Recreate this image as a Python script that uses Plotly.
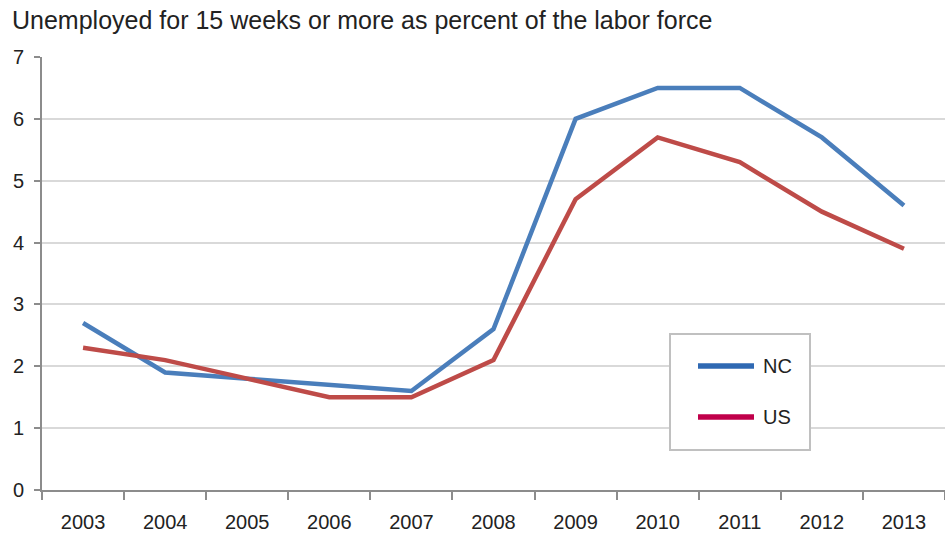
import plotly.graph_objects as go

# Long-term unemployment: share of labor force unemployed 15+ weeks
years = ["2003", "2004", "2005", "2006", "2007", "2008",
         "2009", "2010", "2011", "2012", "2013"]
nc_values = [2.7, 1.9, 1.8, 1.7, 1.6, 2.6, 6.0, 6.5, 6.5, 5.7, 4.6]
us_values = [2.3, 2.1, 1.8, 1.5, 1.5, 2.1, 4.7, 5.7, 5.3, 4.5, 3.9]
y_ticks = [0, 1, 2, 3, 4, 5, 6, 7]

series = [("NC", nc_values, "#4a7ebb", "#2f69b3"),
          ("US", us_values, "#be4b48", "#c0004a")]

W, H = 945, 535
M_L, M_R, M_T, M_B = 42, 0, 57, 45
PLOT_W, PLOT_H = W - M_L - M_R, H - M_T - M_B

tick_font = dict(family="Liberation Sans Narrow, Arial Narrow, sans-serif",
                 size=20, color="#222222")
text_font = dict(family="Liberation Sans, Arial, sans-serif",
                 size=20, color="#222222")

fig = go.Figure()

for name, vals, color, _ in series:
    fig.add_trace(go.Scatter(x=years, y=vals, mode="lines", name=name,
                             line=dict(color=color, width=4.5),
                             showlegend=False))

# Boxed key, placed in pixel offsets converted to plot-area fractions
def px(x):
    return (x - M_L) / PLOT_W

def py(y):
    return (H - M_B - y) / PLOT_H

shapes = [dict(type="rect", xref="paper", yref="paper",
               x0=px(670), x1=px(810), y0=py(450), y1=py(334),
               line=dict(color="#c0c0c0", width=2), fillcolor="white",
               layer="above")]
annotations = []
for i, (name, _, _, key_color) in enumerate(series):
    yc = 366 + i * 51
    shapes.append(dict(type="line", xref="paper", yref="paper",
                       x0=px(698), x1=px(754), y0=py(yc), y1=py(yc),
                       line=dict(color=key_color, width=5.5), layer="above"))
    annotations.append(dict(text=name, xref="paper", yref="paper",
                            x=px(761), y=py(yc), xanchor="left",
                            yanchor="middle", showarrow=False,
                            font=text_font))

fig.update_layout(
    width=W, height=H,
    margin=dict(l=M_L, r=M_R, t=M_T, b=M_B),
    paper_bgcolor="white", plot_bgcolor="white",
    showlegend=False,
    shapes=shapes, annotations=annotations,
    title=dict(text="Unemployed for 15 weeks or more as percent of the labor force",
               x=12 / W, xanchor="left", y=1 - 20 / H, yanchor="middle",
               font=dict(family="Liberation Sans, Arial, sans-serif",
                         size=25, color="#222222")),
    xaxis=dict(type="category", range=[-0.5, 10.5],
               showgrid=False, showline=True, linecolor="#8c8c8c",
               linewidth=2, ticks="outside", tickson="boundaries",
               ticklen=8, tickcolor="#8c8c8c", tickwidth=1.5,
               tickfont=tick_font, ticklabelstandoff=13, fixedrange=True),
    yaxis=dict(range=[0, 7], tickvals=y_ticks,
               showgrid=True, gridcolor="#d9d9d9", gridwidth=1.5,
               showline=True, linecolor="#8c8c8c", linewidth=2,
               ticks="outside", ticklen=6, tickcolor="#8c8c8c",
               tickwidth=1.5, tickfont=tick_font, ticklabelstandoff=6,
               zeroline=False, fixedrange=True),
)

fig.write_html("out.html")
